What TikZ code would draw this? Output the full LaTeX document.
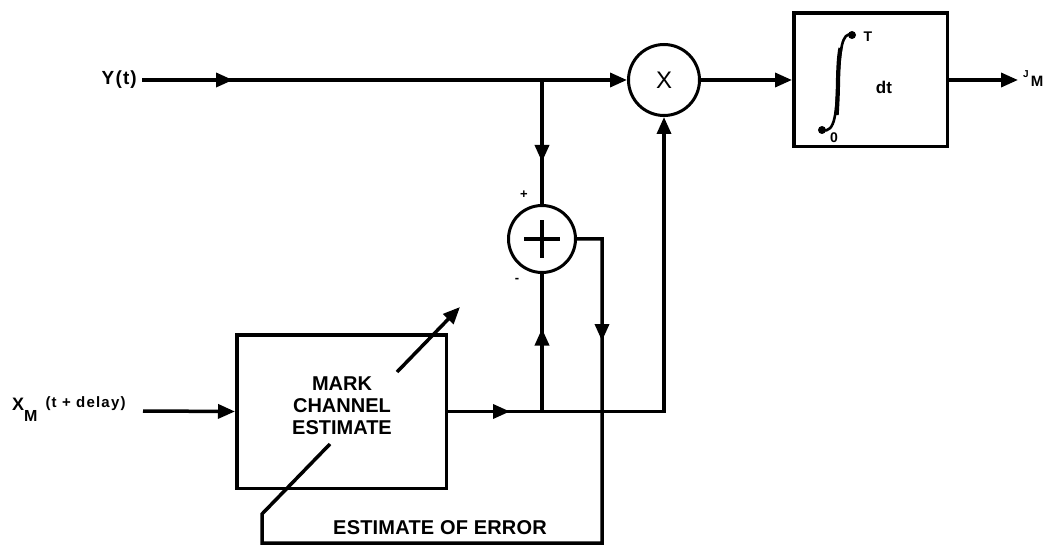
\documentclass[tikz,border=0pt]{standalone}
\usepackage{fontspec}
\setmainfont{Liberation Sans}
\usetikzlibrary{arrows.meta,decorations.markings}
\tikzset{
  wire/.style={line width=3.5pt},
  arrowtip/.style={-{Triangle[length=17pt,width=14pt]}},
  midarrow/.style={postaction={decorate},decoration={markings,mark=at position #1 with {\arrow{Triangle[length=17pt,width=14pt]}}}},
  txt/.style={inner sep=0pt,font=\bfseries\fontsize{20}{23}\selectfont},
  smalltxt/.style={inner sep=0pt,font=\bfseries\fontsize{13}{15}\selectfont},
  junc/.style={circle,draw,line width=3pt,inner sep=0pt},
  blockbox/.style={draw,line width=3.5pt,inner sep=0pt},
}
\begin{document}
\begin{tikzpicture}[x=1pt,y=-1pt]
\useasboundingbox (0,0) rectangle (1055,548);
% blocks
\node[junc,minimum size=71pt,font=\fontsize{24}{26}\selectfont] (mul) at (664,80) {X};
\node[junc,minimum size=67pt] (sum) at (542,239) {};
\node[blockbox,minimum width=153.5pt,minimum height=133.5pt] (int) at (870.5,80) {};
\node[blockbox,minimum width=209.5pt,minimum height=153.5pt] (mbox) at (341.5,411.5) {};
\node[txt,align=center] (mtxt) at (342,406) {MARK\\[-1pt]CHANNEL\\[-1pt]ESTIMATE};
% plus sign inside summer
\draw[line width=3.5pt] ([xshift=-18pt]sum.center) -- ([xshift=18pt]sum.center);
\draw[line width=3.5pt] ([yshift=-19pt]sum.center) -- ([yshift=19pt]sum.center);
% labels
\node[txt,anchor=east,font=\bfseries\fontsize{19}{23}\selectfont\addfontfeature{LetterSpace=6}] (ylbl) at (137,80) {Y(t)};
\node[anchor=base west,inner sep=0pt,font=\bfseries] (xlbl) at (12,410)
  {\fontsize{18}{20}\selectfont X\raisebox{-11pt}{\fontsize{16}{17}\selectfont M}\hspace{8pt}\raisebox{3pt}{\fontsize{15}{16}\selectfont\addfontfeature{LetterSpace=8}(t + delay)}};
\node[anchor=base west,inner sep=0pt,font=\bfseries] (jlbl) at (1023,87)
  {\raisebox{9pt}{\fontsize{10}{11}\selectfont J}\hspace{2pt}\fontsize{15}{17}\selectfont M};
\node[smalltxt] (plus) at (524,195) {+};
\node[smalltxt] (minus) at (517,280) {-};
\node[txt,font=\bfseries\fontsize{20}{23}\selectfont\addfontfeature{LetterSpace=1}] (err) at (440,528) {ESTIMATE OF ERROR};
% integrator contents
\node[smalltxt,font=\bfseries\fontsize{14}{16}\selectfont] (tlim) at (868,37) {T};
\node[smalltxt,font=\bfseries\fontsize{14}{16}\selectfont] (zlim) at (834,138) {0};
\node[txt,font=\bfseries\fontsize{17}{20}\selectfont] (dt) at (884,87) {dt};
\coordinate (ib) at (822,130);
\coordinate (it) at (852,35);
\draw[line width=2.6pt] (ib) .. controls (836,134) and (836,110) .. (838,82) .. controls (840,50) and (842,31) .. (it);
\draw[line width=4.2pt] (836.6,115) .. controls (837.6,100) and (837.8,92) .. (838,82) .. controls (838.3,66) and (839,56) .. (840.5,48);
\fill (ib) circle (4pt);
\fill (it) circle (4pt);
% coordinates
\coordinate (yin) at (142,80);
\coordinate (j1) at (542,80);
\coordinate (xin) at (143,411);
\coordinate (j2) at (542,411.5);
\coordinate (jout) at (1018,80);
\coordinate (fbA) at (602,543);
\coordinate (fbB) at (262,514);
\coordinate (fbC) at (330,444);
\coordinate (adjS) at (397,372);
\coordinate (adjE) at (460,307);
% connectors
\draw[wire,arrowtip,midarrow=91pt] (yin) -- (mul.west);
\draw[wire,midarrow=82pt] (j1) -- (sum.north);
\draw[wire,arrowtip] (mul.east) -- (int.west);
\draw[wire,arrowtip] (int.east) -- (jout);
\draw[wire,arrowtip] (xin) -- (mbox.west);
\draw[wire,arrowtip,midarrow=62pt] (mbox.east) -| (mul.south);
\draw[wire,midarrow=83pt] (j2) -- (sum.south);
\draw[wire,midarrow=127pt] (sum.east) -| (fbA) -| (fbB) -- (fbC);
\draw[wire,arrowtip] (adjS) -- (adjE);
\end{tikzpicture}
\end{document}
